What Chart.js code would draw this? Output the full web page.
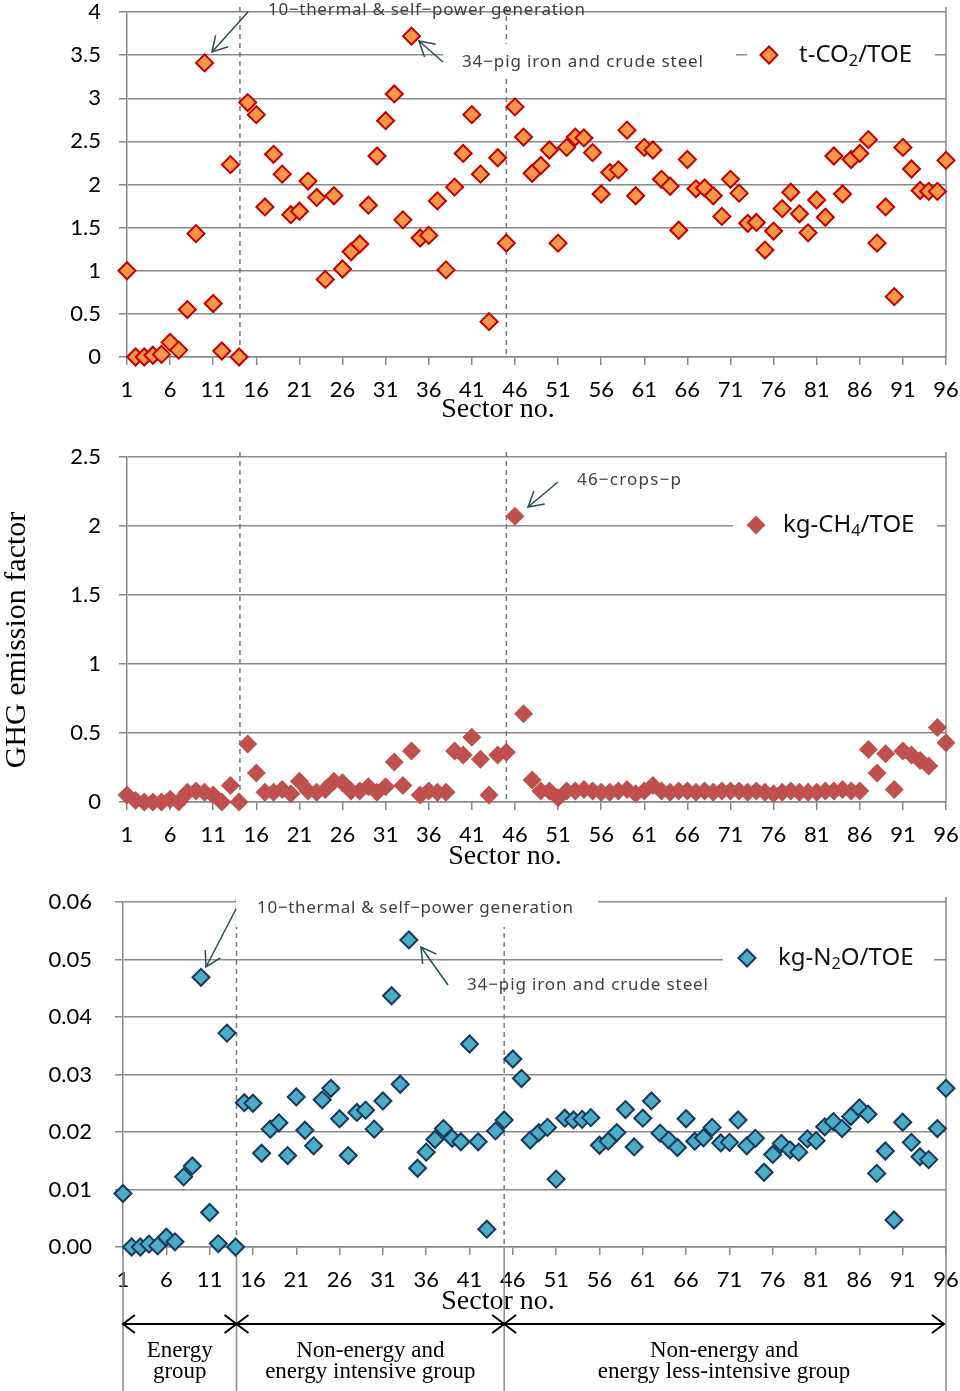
<!DOCTYPE html>
<html>
<head>
<meta charset="utf-8">
<script src="https://cdn.jsdelivr.net/npm/chart.js@4.4.0/dist/chart.umd.min.js"></script>
<style>
  body { margin: 0; background: #fff; width: 960px; height: 1391px; position: relative; overflow: hidden; }
  canvas { position: absolute; left: 0; }
</style>
</head>
<body>
<canvas id="co2Chart" width="960" height="430" style="top:0"></canvas>
<canvas id="ch4Chart" width="960" height="445" style="top:430px"></canvas>
<canvas id="n2oChart" width="960" height="516" style="top:875px"></canvas>
<script>
// ========================
// DATA
// ========================
const sectorNo = Array.from({ length: 96 }, (_, i) => i + 1);
const sectorTicks = [1, 6, 11, 16, 21, 26, 31, 36, 41, 46, 51, 56, 61, 66, 71, 76, 81, 86, 91, 96];
const groupEdges = [14.1, 45];
const groupNames = [
  ["Energy", "group"],
  ["Non-energy and", "energy intensive group"],
  ["Non-energy and", "energy less-intensive group"]
];

const co2Ticks = [0, 0.5, 1, 1.5, 2, 2.5, 3, 3.5, 4];
const ch4Ticks = [0, 0.5, 1, 1.5, 2, 2.5];
const n2oTicks = [0, 0.01, 0.02, 0.03, 0.04, 0.05, 0.06];

// t-CO2/TOE
const co2PerToe = [
  1.00, 0.00, 0.00, 0.02, 0.03, 0.17, 0.08, 0.55, 1.43, 3.41,
  0.62, 0.07, 2.23, 0.00, 2.95, 2.81, 1.74, 2.35, 2.12, 1.65,
  1.69, 2.04, 1.85, 0.90, 1.87, 1.02, 1.22, 1.31, 1.76, 2.33,
  2.74, 3.05, 1.59, 3.72, 1.38, 1.41, 1.81, 1.01, 1.97, 2.36,
  2.81, 2.12, 0.41, 2.31, 1.32, 2.90, 2.55, 2.13, 2.22, 2.40,
  1.32, 2.43, 2.55, 2.54, 2.37, 1.89, 2.14, 2.17, 2.63, 1.87,
  2.43, 2.40, 2.06, 1.98, 1.47, 2.29, 1.95, 1.96, 1.87, 1.63,
  2.06, 1.90, 1.55, 1.56, 1.24, 1.46, 1.72, 1.91, 1.66, 1.44,
  1.82, 1.62, 2.33, 1.89, 2.29, 2.36, 2.52, 1.32, 1.74, 0.70,
  2.43, 2.18, 1.93, 1.92, 1.92, 2.28
];

// kg-CH4/TOE
const ch4PerToe = [
  0.05, 0.01, 0.00, 0.00, 0.00, 0.02, 0.00, 0.07, 0.08, 0.07,
  0.05, 0.00, 0.12, 0.00, 0.42, 0.21, 0.07, 0.07, 0.09, 0.06,
  0.15, 0.08, 0.07, 0.09, 0.15, 0.14, 0.08, 0.08, 0.11, 0.07,
  0.11, 0.29, 0.12, 0.37, 0.05, 0.08, 0.07, 0.07, 0.37, 0.34,
  0.47, 0.31, 0.05, 0.34, 0.36, 2.07, 0.64, 0.16, 0.08, 0.08,
  0.03, 0.08, 0.08, 0.09, 0.08, 0.07, 0.07, 0.08, 0.09, 0.06,
  0.08, 0.12, 0.08, 0.07, 0.08, 0.08, 0.07, 0.08, 0.07, 0.08,
  0.08, 0.08, 0.07, 0.08, 0.07, 0.06, 0.07, 0.08, 0.07, 0.07,
  0.07, 0.08, 0.08, 0.09, 0.08, 0.08, 0.38, 0.21, 0.35, 0.09,
  0.37, 0.34, 0.30, 0.26, 0.54, 0.43
];

// kg-N2O/TOE
const n2oPerToe = [
  0.0093, 0.0000, 0.0000, 0.0005, 0.0002, 0.0017, 0.0009, 0.0122, 0.0141, 0.0469,
  0.0060, 0.0006, 0.0372, 0.0000, 0.0251, 0.0250, 0.0163, 0.0205, 0.0216, 0.0159,
  0.0261, 0.0203, 0.0176, 0.0256, 0.0276, 0.0223, 0.0159, 0.0234, 0.0238, 0.0205,
  0.0254, 0.0437, 0.0283, 0.0534, 0.0137, 0.0165, 0.0187, 0.0206, 0.0189, 0.0183,
  0.0353, 0.0183, 0.0031, 0.0202, 0.0221, 0.0327, 0.0293, 0.0186, 0.0199, 0.0208,
  0.0118, 0.0224, 0.0221, 0.0222, 0.0225, 0.0177, 0.0184, 0.0199, 0.0239, 0.0174,
  0.0224, 0.0254, 0.0198, 0.0186, 0.0173, 0.0223, 0.0184, 0.0190, 0.0208, 0.0181,
  0.0182, 0.0221, 0.0176, 0.0189, 0.0130, 0.0161, 0.0180, 0.0169, 0.0165, 0.0188,
  0.0185, 0.0209, 0.0218, 0.0206, 0.0227, 0.0242, 0.0231, 0.0128, 0.0167, 0.0047,
  0.0217, 0.0182, 0.0157, 0.0152, 0.0206, 0.0276
];

// ========================
// STYLE
// ========================
const GRID = "#8a8a8a";
const TICK_FONT = "Lato";
const NOTE_FONT = "Noto Sans";
const SERIF = "Liberation Serif";
const ARROW = "#2a4d4d";

// ========================
// DRAW HELPERS
// ========================
function line(ctx, x1, y1, x2, y2) {
  ctx.beginPath(); ctx.moveTo(x1, y1); ctx.lineTo(x2, y2); ctx.stroke();
}

function arrowHead(ctx, x1, y1, x2, y2, len, ang) {
  const t = Math.atan2(y2 - y1, x2 - x1);
  ctx.beginPath();
  ctx.moveTo(x2 - len * Math.cos(t - ang), y2 - len * Math.sin(t - ang));
  ctx.lineTo(x2, y2);
  ctx.lineTo(x2 - len * Math.cos(t + ang), y2 - len * Math.sin(t + ang));
  ctx.stroke();
}

function arrow(ctx, x1, y1, x2, y2, len, ang) {
  line(ctx, x1, y1, x2, y2);
  arrowHead(ctx, x1, y1, x2, y2, len, ang);
}

function diamond(ctx, x, y, r, fill, edge, w) {
  ctx.beginPath();
  ctx.moveTo(x - r, y); ctx.lineTo(x, y - r); ctx.lineTo(x + r, y); ctx.lineTo(x, y + r);
  ctx.closePath();
  ctx.fillStyle = fill; ctx.fill();
  if (w) { ctx.strokeStyle = edge; ctx.lineWidth = w; ctx.stroke(); }
}

// text stretched to a given width with letter spacing
function fitText(ctx, text, x, y, width) {
  ctx.letterSpacing = "0px";
  const m = ctx.measureText(text).width;
  ctx.letterSpacing = ((width - m) / (text.length - 1)).toFixed(2) + "px";
  ctx.fillText(text, x, y);
  ctx.letterSpacing = "0px";
}

// "t-CO" + sub "2" + "/TOE"
function subText(ctx, parts, x, y, size) {
  parts.forEach(([t, sub]) => {
    ctx.font = (sub ? size * 0.68 : size) + "px '" + NOTE_FONT + "'";
    ctx.fillText(t, x, sub ? y + size * 0.28 : y);
    x += ctx.measureText(t).width;
  });
}

// ========================
// DECORATION PLUGIN
// ========================
const decor = {
  id: "decor",
  beforeDatasetsDraw(chart, args, o) {
    const ctx = chart.ctx, a = chart.chartArea, xs = chart.scales.x;
    const ds = chart.data.datasets[0];
    ctx.save();
    ctx.strokeStyle = GRID; ctx.lineWidth = 1.5;
    line(ctx, a.right, a.top - 5, a.right, a.bottom);
    ctx.strokeStyle = "#7a7a7a"; ctx.setLineDash([5, 4]);
    groupEdges.forEach(g => {
      const x = xs.getPixelForValue(g);
      line(ctx, x, a.top - 5, x, a.bottom);
    });
    ctx.setLineDash([]);

    ctx.translate(0, -o.pageTop);
    ctx.fillStyle = "#fff";
    o.boxes.forEach(b => ctx.fillRect(b[0], b[1], b[2] - b[0], b[3] - b[1]));

    // notes
    ctx.fillStyle = "#404040"; ctx.textBaseline = "middle"; ctx.textAlign = "left";
    ctx.font = "17px '" + NOTE_FONT + "'";
    o.notes.forEach(n => fitText(ctx, n[0], n[1], n[2], n[3]));
    ctx.strokeStyle = ARROW; ctx.lineWidth = 1.5;
    o.arrows.forEach(p => arrow(ctx, p[0], p[1], p[2], p[3], 17, 0.52));

    // legend
    const lg = o.legend;
    diamond(ctx, lg.x, lg.y, ds.pointRadius, ds.backgroundColor, ds.borderColor, ds.borderWidth);
    ctx.fillStyle = "#111";
    subText(ctx, lg.parts, lg.tx, lg.y, 24);

    // axis titles
    ctx.fillStyle = "#000"; ctx.textAlign = "center";
    ctx.font = "28px '" + SERIF + "'";
    ctx.fillText("Sector no.", o.xTitle[0], o.xTitle[1]);
    if (o.yTitle) {
      ctx.save();
      ctx.translate(o.yTitle[0], o.yTitle[1]); ctx.rotate(-Math.PI / 2);
      ctx.font = "30px '" + SERIF + "'";
      ctx.fillText("GHG emission factor", 0, 0);
      ctx.restore();
    }

    // sector groups under the last panel
    if (o.groups) {
      const g = o.groups;
      const xsPix = [1, ...groupEdges, 96].map(v => xs.getPixelForValue(v));
      const yTop = a.bottom + o.pageTop;
      ctx.strokeStyle = GRID; ctx.lineWidth = 1.5;
      xsPix.forEach(x => line(ctx, x, yTop, x, 1391));
      ctx.strokeStyle = "#000"; ctx.lineWidth = 2;
      for (let i = 0; i < xsPix.length - 1; i++) {
        const x1 = xsPix[i], x2 = i === xsPix.length - 2 ? xsPix[i + 1] - 2 : xsPix[i + 1];
        line(ctx, x1, g.y, x2, g.y);
        arrowHead(ctx, x2, g.y, x1, g.y, 15, 0.65);
        arrowHead(ctx, x1, g.y, x2, g.y, 15, 0.65);
        ctx.font = "23px '" + SERIF + "'";
        const cx = (x1 + x2) / 2;
        groupNames[i].forEach((t, k) => ctx.fillText(t, cx, g.lineY[k]));
      }
    }
    ctx.restore();
  }
};

// ========================
// CHART BUILDER
// ========================
function makeChart(id, values, cfg) {
  return new Chart(document.getElementById(id), {
    type: "scatter",
    data: {
      datasets: [{
        data: sectorNo.map((s, i) => ({ x: s, y: values[i] })),
        pointStyle: "rectRot",
        pointRadius: cfg.radius,
        pointHoverRadius: cfg.radius,
        backgroundColor: cfg.fill,
        borderColor: cfg.edge,
        borderWidth: cfg.edgeW,
        clip: false
      }]
    },
    options: {
      responsive: false,
      animation: false,
      events: [],
      layout: { padding: cfg.pad },
      plugins: { legend: { display: false }, tooltip: { enabled: false }, decor: cfg.decor },
      scales: {
        x: {
          type: "linear", min: 1, max: 96,
          afterBuildTicks: s => { s.ticks = sectorTicks.map(v => ({ value: v })); },
          afterFit: s => { s.height = 60; s.paddingLeft = 0; s.paddingRight = 0; },
          grid: { drawOnChartArea: false, color: GRID, lineWidth: 1.5, tickLength: 8 },
          border: { color: GRID, width: 1.5 },
          ticks: { color: "#000", font: { family: TICK_FONT, size: 22 }, padding: 12, maxRotation: 0, autoSkip: false }
        },
        y: {
          min: 0, max: cfg.ticks[cfg.ticks.length - 1],
          afterBuildTicks: s => { s.ticks = cfg.ticks.map(v => ({ value: v })); },
          afterFit: s => { s.width = cfg.yW; s.paddingTop = 0; s.paddingBottom = 0; },
          grid: { color: GRID, lineWidth: 1.5, tickLength: 8 },
          border: { color: GRID, width: 1.5 },
          ticks: { color: "#000", font: { family: TICK_FONT, size: 22 }, padding: cfg.yPad, callback: cfg.fmt }
        }
      }
    },
    plugins: [decor]
  });
}

makeChart("co2Chart", co2PerToe, {
  ticks: co2Ticks, fmt: v => String(v),
  fill: "#f79646", edge: "#c00000", edgeW: 2, radius: 8.5,
  pad: { top: 12, right: 14, bottom: 13, left: 0 }, yW: 127, yPad: 18,
  decor: {
    pageTop: 0,
    boxes: [[443, 44, 736, 76], [747, 40, 935, 70]],
    notes: [["10−thermal & self−power generation", 268, 10, 317], ["34−pig iron and crude steel", 462, 62, 241]],
    arrows: [[248, 12, 212, 52], [443, 62, 419, 41]],
    legend: { x: 769, y: 55, tx: 799, parts: [["t-CO", 0], ["2", 1], ["/TOE", 0]] },
    xTitle: [498, 410]
  }
});

makeChart("ch4Chart", ch4PerToe, {
  ticks: ch4Ticks, fmt: v => String(v),
  fill: "#c0504d", edge: "#c0504d", edgeW: 0, radius: 9.5,
  pad: { top: 27, right: 14, bottom: 13, left: 0 }, yW: 127, yPad: 18,
  decor: {
    pageTop: 430,
    boxes: [[733, 510, 937, 540]],
    notes: [["46−crops−p", 577, 480, 104]],
    arrows: [[558, 482, 528, 507]],
    legend: { x: 756, y: 525, tx: 783, parts: [["kg-CH", 0], ["4", 1], ["/TOE", 0]] },
    xTitle: [505, 857],
    yTitle: [17, 640]
  }
});

makeChart("n2oChart", n2oPerToe, {
  ticks: n2oTicks, fmt: v => v.toFixed(2),
  fill: "#4bacc6", edge: "#17375e", edgeW: 2, radius: 8.5,
  pad: { top: 27, right: 14, bottom: 84, left: 0 }, yW: 123, yPad: 23,
  decor: {
    pageTop: 875,
    boxes: [[236, 889, 598, 927], [723, 944, 934, 974]],
    notes: [["10−thermal & self−power generation", 257, 908, 316], ["34−pig iron and crude steel", 467, 985, 241]],
    arrows: [[236, 909, 206, 967], [448, 985, 421, 947]],
    legend: { x: 747, y: 958, tx: 778, parts: [["kg-N", 0], ["2", 1], ["O/TOE", 0]] },
    xTitle: [498, 1302],
    groups: { y: 1324, lineY: [1351, 1372] }
  }
});
</script>
</body>
</html>
